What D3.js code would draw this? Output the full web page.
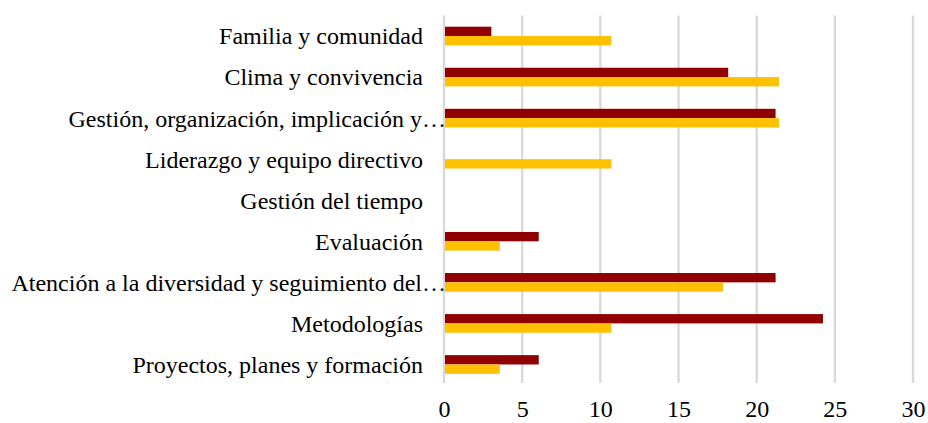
<!DOCTYPE html>
<html>
<head>
<meta charset="utf-8">
<script src="https://cdn.jsdelivr.net/npm/d3@7"></script>
<style>
  html, body { margin: 0; padding: 0; background: #fff; }
  svg { display: block; }
</style>
</head>
<body>
<svg id="chart" width="928" height="423"></svg>
<script>
// Categories, top to bottom
const categories = [
  "Familia y comunidad",
  "Clima y convivencia",
  "Gestión, organización, implicación y…",
  "Liderazgo y equipo directivo",
  "Gestión del tiempo",
  "Evaluación",
  "Atención a la diversidad y seguimiento del…",
  "Metodologías",
  "Proyectos, planes y formación"
];
// Series values (%)
const seriesRed    = [3.03, 18.18, 21.21, 0, 0, 6.06, 21.21, 24.24, 6.06];
const seriesYellow = [10.71, 21.43, 21.43, 10.71, 0, 3.57, 17.86, 10.71, 3.57];
const xTicks = [0, 5, 10, 15, 20, 25, 30];

const FONT = "'Liberation Serif', 'Times New Roman', serif";
const svg = d3.select("#chart");
const plotLeft = 444, plotRight = 913, plotTop = 15.5, plotBottom = 385;

const x = d3.scaleLinear().domain([0, 30]).range([plotLeft, plotRight]);
const y = d3.scaleBand().domain(categories).range([plotTop, plotBottom]).paddingInner(0).paddingOuter(0);
const groupH = y.bandwidth() / 2.2;
const sub = d3.scaleBand().domain(["red", "yellow"]).range([0, groupH]);

// Vertical gridlines
svg.append("g").selectAll("line").data(xTicks).join("line")
  .attr("x1", d => x(d)).attr("x2", d => x(d))
  .attr("y1", plotTop).attr("y2", plotBottom - 2)
  .attr("stroke", "#d9d9d9").attr("stroke-width", 2.4);

const series = [
  { key: "red", values: seriesRed, color: "#900000" },
  { key: "yellow", values: seriesYellow, color: "#FFC000" }
];

series.forEach(s => {
  svg.append("g").selectAll("rect").data(categories).join("rect")
    .attr("x", x(0) + 1)
    .attr("y", (c) => y(c) + (y.bandwidth() - groupH) / 2 + sub(s.key))
    .attr("width", (c, i) => Math.max(0, x(s.values[i]) - x(0) - 1))
    .attr("height", sub.bandwidth())
    .attr("fill", s.color);
});

// Category labels
svg.append("g").selectAll("text").data(categories).join("text")
  .attr("x", d => d.endsWith("…") ? 446 : 423)
  .attr("y", d => y(d) + y.bandwidth() / 2)
  .attr("dy", "0.35em")
  .attr("text-anchor", "end")
  .attr("font-family", FONT)
  .attr("font-size", 24)
  .attr("fill", "#000")
  .text(d => d);

// X axis tick labels
const xAxis = d3.axisBottom(x).tickValues(xTicks).tickSize(0).tickPadding(0);
const gx = svg.append("g").attr("transform", `translate(0, ${plotBottom + 24})`).call(xAxis);
gx.attr("font-family", null).attr("font-size", null);
gx.select(".domain").remove();
gx.selectAll("text")
  .attr("dy", "0.35em")
  .attr("font-family", FONT)
  .attr("font-size", 24)
  .attr("fill", "#000");
</script>
</body>
</html>
